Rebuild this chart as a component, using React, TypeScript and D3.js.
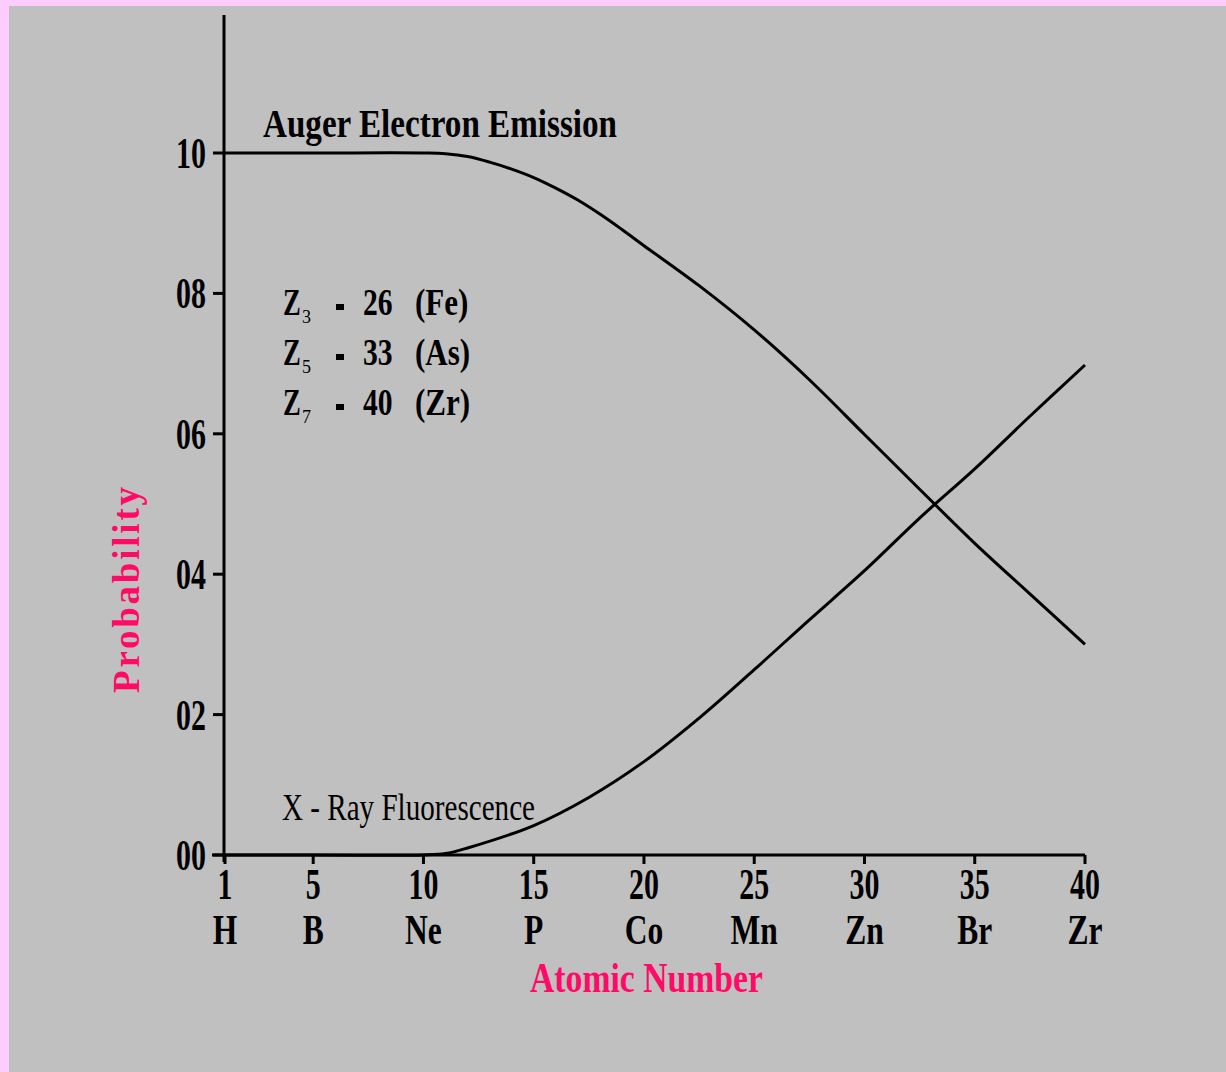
import React from "react";
import * as d3 from "d3";

// Tick values and labels
const Z_TICKS = [1, 5, 10, 15, 20, 25, 30, 35, 40];
const ELEMENTS = ["H", "B", "Ne", "P", "Co", "Mn", "Zn", "Br", "Zr"];
const PROB_TICKS = [0, 0.2, 0.4, 0.6, 0.8, 1.0];
const PROB_LABELS = ["00", "02", "04", "06", "08", "10"];

// Auger electron emission probability vs atomic number
const AUGER_Z = [1, 5, 10, 11, 12, 13, 14, 15, 16, 17, 18, 19, 20, 22.5, 25, 27.5, 30, 32.5, 35, 37.5, 40];
const AUGER_P = [1, 1, 1, 0.999, 0.995, 0.987, 0.977, 0.965, 0.95, 0.933, 0.913, 0.891, 0.868, 0.811, 0.748, 0.677, 0.599, 0.521, 0.444, 0.372, 0.3];

// X-ray fluorescence probability vs atomic number
const XRAY_Z = [1, 5, 10, 11, 12, 15, 17.5, 20, 22.5, 25, 27.5, 30, 32.5, 35, 37.5, 40];
const XRAY_P = [0, 0, 0, 0.002, 0.01, 0.042, 0.082, 0.133, 0.195, 0.264, 0.335, 0.405, 0.48, 0.55, 0.625, 0.698];

// Annotation block
const NOTE_SUB = ["3", "5", "7"];
const NOTE_Z = [26, 33, 40];
const NOTE_SYM = ["Fe", "As", "Zr"];

const W = 1226;
const H = 1072;
const SERIF = "'Liberation Serif', 'Times New Roman', serif";
const PINK = "#ff0a66";

export default function App() {
  const x = d3.scaleLinear().domain([1, 40]).range([225, 1085]);
  const y = d3.scaleLinear().domain([0, 1]).range([855, 153]);

  const line = d3
    .line<[number, number]>()
    .x((d) => x(d[0]))
    .y((d) => y(d[1]))
    .curve(d3.curveCatmullRom.alpha(0.5));

  const auger = line(AUGER_Z.map((z, i) => [z, AUGER_P[i]]) as [number, number][]) || "";
  const xray = line(XRAY_Z.map((z, i) => [z, XRAY_P[i]]) as [number, number][]) || "";

  const axisX = x(1) - 1;
  const axisY = y(0);

  return (
    <svg
      width={W}
      height={H}
      style={{ position: "absolute", left: 0, top: 0 }}
      fontFamily={SERIF}
    >
      <rect x={0} y={0} width={W} height={H} fill="#ffccff" />
      <rect x={9} y={6} width={W - 9} height={H - 6} fill="#c0c0c0" />

      {/* axes */}
      <line x1={axisX} x2={axisX} y1={15} y2={axisY + 7} stroke="#000" strokeWidth={3} />
      <line x1={212} x2={x(40)} y1={axisY} y2={axisY} stroke="#000" strokeWidth={3} />

      {/* y ticks */}
      {PROB_TICKS.map((p, i) => (
        <g key={"yt" + i}>
          <line x1={axisX - 11} x2={axisX} y1={y(p)} y2={y(p)} stroke="#000" strokeWidth={3} />
          <text
            transform={`translate(206,${y(p) + 15}) scale(0.68,1)`}
            textAnchor="end"
            fontSize={44}
            fontWeight="bold"
          >
            {PROB_LABELS[i]}
          </text>
        </g>
      ))}

      {/* x ticks */}
      {Z_TICKS.map((z, i) => (
        <g key={"xt" + i}>
          <line x1={x(z)} x2={x(z)} y1={axisY} y2={axisY + 9} stroke="#000" strokeWidth={3} />
          <text
            transform={`translate(${x(z)},899) scale(0.68,1)`}
            textAnchor="middle"
            fontSize={44}
            fontWeight="bold"
          >
            {z}
          </text>
          <text
            transform={`translate(${x(z)},944) scale(0.75,1)`}
            textAnchor="middle"
            fontSize={42}
            fontWeight="bold"
          >
            {ELEMENTS[i]}
          </text>
        </g>
      ))}

      {/* curves */}
      <path d={auger} fill="none" stroke="#000" strokeWidth={3} />
      <path d={xray} fill="none" stroke="#000" strokeWidth={3} />

      {/* curve labels */}
      <text
        x={263}
        y={137}
        fontSize={40}
        fontWeight="bold"
        textLength={354}
        lengthAdjust="spacingAndGlyphs"
      >
        Auger Electron Emission
      </text>
      <text
        x={282}
        y={820}
        fontSize={37}
        textLength={253}
        lengthAdjust="spacingAndGlyphs"
      >
        X - Ray Fluorescence
      </text>

      {/* annotation */}
      {NOTE_SUB.map((s, i) => {
        const by = 315 + i * 50;
        return (
          <g key={"n" + i} fontWeight="bold">
            <text transform={`translate(283,${by}) scale(0.72,1)`} fontSize={37}>
              Z
            </text>
            <text x={302} y={by + 8} fontSize={18} fontWeight="normal">
              {s}
            </text>
            <rect x={336} y={by - 11} width={8} height={6} fill="#000" />
            <text transform={`translate(363,${by}) scale(0.8,1)`} fontSize={37}>
              {NOTE_Z[i]}
            </text>
            <text transform={`translate(415,${by}) scale(0.84,1)`} fontSize={37}>
              {`(${NOTE_SYM[i]})`}
            </text>
          </g>
        );
      })}

      {/* axis titles */}
      <text
        x={530}
        y={992}
        fontSize={43}
        fontWeight="bold"
        fill={PINK}
        textLength={233}
        lengthAdjust="spacingAndGlyphs"
      >
        Atomic Number
      </text>
      <text
        transform="translate(139,590) rotate(-90)"
        textAnchor="middle"
        fontSize={37}
        fontWeight="bold"
        fill={PINK}
        textLength={206}
        lengthAdjust="spacing"
      >
        Probability
      </text>
    </svg>
  );
}
